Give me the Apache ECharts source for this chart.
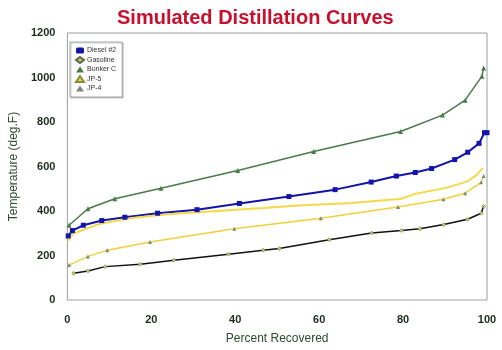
<!DOCTYPE html>
<html>
<head>
<meta charset="utf-8">
<script src="https://cdn.jsdelivr.net/npm/echarts@6/dist/echarts.min.js"></script>
<style>
  html, body { margin: 0; padding: 0; background: #fff; }
  #chart { width: 502px; height: 350px; }
</style>
</head>
<body>
<div id="chart"></div>
<script>
// [percent recovered, temperature deg F]
var diesel = [[0.2, 288], [1.2, 312], [3.8, 336], [8.2, 357], [13.7, 372], [21.5, 390], [30.9, 406],
  [41, 434], [52.8, 465], [63.8, 496], [72.4, 530], [78.4, 557], [82.9, 573], [86.8, 591],
  [92.3, 631], [95.4, 664], [98.1, 704], [99.4, 752], [100, 752]];
var gasoline = [[1.5, 120], [4.9, 130], [9, 150], [17.4, 161], [25.4, 179], [38.4, 206], [46.7, 224],
  [50.5, 231], [62.4, 271], [72.5, 301], [79.6, 312], [84, 320], [89.7, 339], [95.4, 363],
  [98.6, 390], [99.2, 421]];
var bunkerC = [[0.4, 336], [4.9, 410], [11.3, 455], [22.3, 502], [40.6, 582], [58.7, 667],
  [79.4, 757], [89.4, 831], [94.8, 898], [98.8, 1006], [99.2, 1043]];
var jp5 = [[0.2, 267], [1.3, 298], [7.6, 342], [15.4, 369], [23.2, 384], [31, 394], [46.7, 413],
  [55, 425], [67.8, 436], [79.6, 455], [82.7, 476], [90.5, 505], [95.2, 532], [97.5, 561], [99, 594]];
var jp4 = [[0.4, 157], [4.9, 196], [9.5, 224], [19.7, 261], [39.8, 320], [60.4, 367], [78.8, 418],
  [89.6, 453], [94.8, 480], [98.6, 529], [99.2, 557]];

var seriesNames = ['Diesel #2', 'Gasoline', 'Bunker C', 'JP-5', 'JP-4'];
var xTicks = [0, 20, 40, 60, 80, 100];
var yTicks = [0, 200, 400, 600, 800, 1000, 1200];

var chart = echarts.init(document.getElementById('chart'));
var labelColor = '#1d2b1d';
var titleColor = '#2c4a2c';

var option = {
  animation: false,
  title: {
    text: 'Simulated Distillation Curves',
    left: 112,
    top: 3,
    textStyle: {
      color: '#c8102e',
      fontFamily: 'Liberation Sans',
      fontWeight: 'bold',
      fontSize: 20
    }
  },
  grid: {
    left: 61,
    right: 15,
    top: 33,
    bottom: 47,
    show: true,
    borderColor: '#9aa29a',
    borderWidth: 1
  },
  legend: {
    orient: 'vertical',
    left: 70,
    top: 42,
    padding: [5, 6, 5, 5],
    itemGap: 2,
    itemWidth: 8,
    itemHeight: 6,
    backgroundColor: '#fff',
    borderColor: '#a0a8a0',
    borderWidth: 1,
    shadowColor: 'rgba(0,0,0,0.2)',
    shadowOffsetX: 1,
    shadowOffsetY: 1,
    textStyle: {
      fontFamily: 'Liberation Sans',
      fontSize: 7,
      color: '#333',
      padding: [0, 0, 0, -2]
    },
    data: [
      {name: seriesNames[0], icon: 'roundRect'},
      {name: seriesNames[1], icon: 'diamond'},
      {name: seriesNames[2], icon: 'triangle'},
      {name: seriesNames[3], icon: 'triangle'},
      {name: seriesNames[4], icon: 'triangle'}
    ]
  },
  xAxis: {
    type: 'value',
    min: 0,
    max: 100,
    interval: 20,
    name: 'Percent Recovered',
    nameLocation: 'middle',
    nameGap: 33,
    nameTextStyle: {color: titleColor, fontFamily: 'Liberation Sans', fontSize: 12},
    axisLine: {show: false},
    axisTick: {show: false},
    splitLine: {show: false},
    axisLabel: {
      color: labelColor,
      fontFamily: 'Liberation Sans',
      fontWeight: 'bold',
      fontSize: 11,
      margin: 14,
      formatter: function (v) { return xTicks.indexOf(v) >= 0 ? v : ''; }
    }
  },
  yAxis: {
    type: 'value',
    min: 0,
    max: 1200,
    interval: 200,
    name: 'Temperature (deg.F)',
    nameLocation: 'middle',
    nameGap: 46,
    nameTextStyle: {color: titleColor, fontFamily: 'Liberation Sans', fontSize: 12},
    axisLine: {show: false},
    axisTick: {show: false},
    splitLine: {show: false},
    axisLabel: {
      color: labelColor,
      fontFamily: 'Liberation Sans',
      fontWeight: 'bold',
      fontSize: 11,
      margin: 12,
      formatter: function (v) { return yTicks.indexOf(v) >= 0 ? v : ''; }
    }
  },
  series: [
    {
      name: seriesNames[0],
      type: 'line',
      data: diesel,
      symbol: 'rect',
      symbolSize: 5,
      itemStyle: {color: '#1414a8'},
      lineStyle: {color: '#1414a8', width: 2}
    },
    {
      name: seriesNames[1],
      type: 'line',
      data: gasoline,
      symbol: 'diamond',
      symbolSize: 4,
      itemStyle: {color: '#c9c46a', borderColor: '#5a6a4a', borderWidth: 0.5},
      lineStyle: {color: '#111', width: 1.5}
    },
    {
      name: seriesNames[2],
      type: 'line',
      data: bunkerC,
      symbol: 'triangle',
      symbolSize: 5,
      itemStyle: {color: '#4a7a4a'},
      lineStyle: {color: '#4a7a4a', width: 1.5}
    },
    {
      name: seriesNames[3],
      type: 'line',
      data: jp5,
      symbol: 'triangle',
      symbolSize: 4,
      showSymbol: false,
      itemStyle: {color: '#f0d23a', borderColor: '#8a8a40', borderWidth: 0.5},
      lineStyle: {color: '#f5d94a', width: 2}
    },
    {
      name: seriesNames[4],
      type: 'line',
      data: jp4,
      symbol: 'triangle',
      symbolSize: 4,
      itemStyle: {color: '#7a8a7a'},
      lineStyle: {color: '#f2d03c', width: 1.5}
    }
  ]
};

chart.setOption(option);
</script>
</body>
</html>
